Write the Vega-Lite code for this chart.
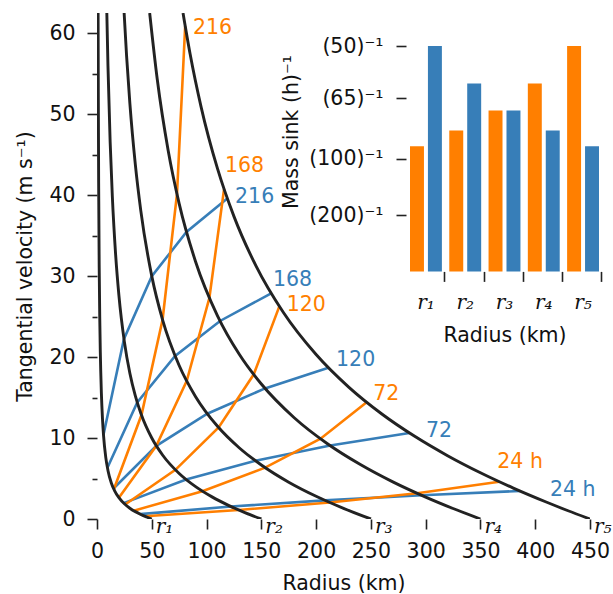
{
  "$schema": "https://vega.github.io/schema/vega-lite/v6.json",
  "width": 493,
  "height": 506,
  "autosize": {"type": "none"},
  "padding": {"left": 97, "top": 13, "right": 23, "bottom": 75},
  "background": "white",
  "config": {
    "view": {"stroke": null},
    "font": "DejaVu Sans",
    "axis": {
      "domain": false,
      "grid": false,
      "tickColor": "#222222",
      "tickWidth": 1.6,
      "labelColor": "#111111",
      "titleColor": "#111111",
      "labelFontSize": 20.5,
      "titleFontSize": 20.5,
      "titleFontWeight": "normal",
      "labelFont": "DejaVu Sans",
      "titleFont": "DejaVu Sans",
      "labelFlush": false,
      "labelOverlap": false
    }
  },
  "datasets": {
    "curves": [
      {"R": 50, "r": 1.0, "v": 62.5}, {"R": 50, "r": 1.2, "v": 52.05}, {"R": 50, "r": 1.5, "v": 41.63}, {"R": 50, "r": 2, "v": 31.2}, {"R": 50, "r": 2.5, "v": 24.94}, {"R": 50, "r": 3, "v": 20.76}, {"R": 50, "r": 4, "v": 15.53}, {"R": 50, "r": 5, "v": 12.38}, {"R": 50, "r": 6, "v": 10.27}, {"R": 50, "r": 8, "v": 7.61}, {"R": 50, "r": 10, "v": 6.0}, {"R": 50, "r": 13, "v": 4.48}, {"R": 50, "r": 16, "v": 3.51}, {"R": 50, "r": 20, "v": 2.63}, {"R": 50, "r": 25, "v": 1.875}, {"R": 50, "r": 30, "v": 1.333}, {"R": 50, "r": 35, "v": 0.911}, {"R": 50, "r": 40, "v": 0.5625}, {"R": 50, "r": 45, "v": 0.264}, {"R": 50, "r": 50, "v": 0},
      {"R": 150, "r": 8.97, "v": 62.5}, {"R": 150, "r": 10, "v": 56.0}, {"R": 150, "r": 12, "v": 46.58}, {"R": 150, "r": 14, "v": 39.83}, {"R": 150, "r": 17, "v": 32.66}, {"R": 150, "r": 20, "v": 27.63}, {"R": 150, "r": 25, "v": 21.88}, {"R": 150, "r": 30, "v": 18.0}, {"R": 150, "r": 35, "v": 15.2}, {"R": 150, "r": 40, "v": 13.06}, {"R": 150, "r": 50, "v": 10.0}, {"R": 150, "r": 60, "v": 7.875}, {"R": 150, "r": 75, "v": 5.625}, {"R": 150, "r": 90, "v": 4.0}, {"R": 150, "r": 105, "v": 2.732}, {"R": 150, "r": 120, "v": 1.6875}, {"R": 150, "r": 135, "v": 0.792}, {"R": 150, "r": 150, "v": 0},
      {"R": 250, "r": 24.76, "v": 62.5}, {"R": 250, "r": 27, "v": 57.2}, {"R": 250, "r": 30, "v": 51.33}, {"R": 250, "r": 35, "v": 43.77}, {"R": 250, "r": 40, "v": 38.06}, {"R": 250, "r": 50, "v": 30.0}, {"R": 250, "r": 60, "v": 24.54}, {"R": 250, "r": 75, "v": 18.96}, {"R": 250, "r": 90, "v": 15.11}, {"R": 250, "r": 110, "v": 11.45}, {"R": 250, "r": 130, "v": 8.77}, {"R": 250, "r": 150, "v": 6.67}, {"R": 250, "r": 175, "v": 4.55}, {"R": 250, "r": 200, "v": 2.81}, {"R": 250, "r": 225, "v": 1.32}, {"R": 250, "r": 250, "v": 0},
      {"R": 350, "r": 48.08, "v": 62.5}, {"R": 350, "r": 55, "v": 54.31}, {"R": 350, "r": 65, "v": 45.49}, {"R": 350, "r": 75, "v": 38.96}, {"R": 350, "r": 90, "v": 31.78}, {"R": 350, "r": 110, "v": 25.09}, {"R": 350, "r": 130, "v": 20.31}, {"R": 350, "r": 150, "v": 16.67}, {"R": 350, "r": 180, "v": 12.51}, {"R": 350, "r": 210, "v": 9.33}, {"R": 350, "r": 240, "v": 6.76}, {"R": 350, "r": 270, "v": 4.59}, {"R": 350, "r": 300, "v": 2.71}, {"R": 350, "r": 325, "v": 1.30}, {"R": 350, "r": 350, "v": 0},
      {"R": 450, "r": 78.53, "v": 62.5}, {"R": 450, "r": 85, "v": 57.43}, {"R": 450, "r": 95, "v": 50.91}, {"R": 450, "r": 110, "v": 43.27}, {"R": 450, "r": 125, "v": 37.38}, {"R": 450, "r": 145, "v": 31.29}, {"R": 450, "r": 170, "v": 25.53}, {"R": 450, "r": 200, "v": 20.31}, {"R": 450, "r": 230, "v": 16.26}, {"R": 450, "r": 260, "v": 12.97}, {"R": 450, "r": 290, "v": 10.21}, {"R": 450, "r": 320, "v": 7.82}, {"R": 450, "r": 350, "v": 5.71}, {"R": 450, "r": 380, "v": 3.82}, {"R": 450, "r": 410, "v": 2.10}, {"R": 450, "r": 430, "v": 1.02}, {"R": 450, "r": 450, "v": 0}
    ],
    "paths": [
      {"series": "blue", "t": 24, "ring": 1, "r": 39.33, "v": 0.606}, {"series": "blue", "t": 24, "ring": 2, "r": 122.28, "v": 1.543}, {"series": "blue", "t": 24, "ring": 3, "r": 208.19, "v": 2.30}, {"series": "blue", "t": 24, "ring": 4, "r": 296.30, "v": 2.93}, {"series": "blue", "t": 24, "ring": 5, "r": 386.09, "v": 3.46},
      {"series": "blue", "t": 72, "ring": 1, "r": 24.34, "v": 1.96}, {"series": "blue", "t": 72, "ring": 2, "r": 81.34, "v": 4.88}, {"series": "blue", "t": 72, "ring": 3, "r": 144.63, "v": 7.19}, {"series": "blue", "t": 72, "ring": 4, "r": 212.86, "v": 9.07}, {"series": "blue", "t": 72, "ring": 5, "r": 285.06, "v": 10.63},
      {"series": "blue", "t": 120, "ring": 1, "r": 15.06, "v": 3.77}, {"series": "blue", "t": 120, "ring": 2, "r": 54.16, "v": 9.03}, {"series": "blue", "t": 120, "ring": 3, "r": 100.68, "v": 13.00}, {"series": "blue", "t": 120, "ring": 4, "r": 153.38, "v": 16.13}, {"series": "blue", "t": 120, "ring": 5, "r": 211.22, "v": 18.69},
      {"series": "blue", "t": 168, "ring": 1, "r": 9.51, "v": 6.33}, {"series": "blue", "t": 168, "ring": 2, "r": 36.72, "v": 14.40}, {"series": "blue", "t": 168, "ring": 3, "r": 71.30, "v": 20.13}, {"series": "blue", "t": 168, "ring": 4, "r": 112.33, "v": 24.46}, {"series": "blue", "t": 168, "ring": 5, "r": 158.97, "v": 27.87},
      {"series": "blue", "t": 216, "ring": 1, "r": 5.92, "v": 10.41}, {"series": "blue", "t": 216, "ring": 2, "r": 24.61, "v": 22.24}, {"series": "blue", "t": 216, "ring": 3, "r": 50.03, "v": 29.98}, {"series": "blue", "t": 216, "ring": 4, "r": 81.67, "v": 35.46}, {"series": "blue", "t": 216, "ring": 5, "r": 118.91, "v": 39.60},
      {"series": "orange", "t": 24, "ring": 1, "r": 43.76, "v": 0.334}, {"series": "orange", "t": 24, "ring": 2, "r": 129.35, "v": 1.115}, {"series": "orange", "t": 24, "ring": 3, "r": 212.42, "v": 2.045}, {"series": "orange", "t": 24, "ring": 4, "r": 292.13, "v": 3.18}, {"series": "orange", "t": 24, "ring": 5, "r": 367.21, "v": 4.61},
      {"series": "orange", "t": 72, "ring": 1, "r": 33.52, "v": 1.03}, {"series": "orange", "t": 72, "ring": 2, "r": 96.20, "v": 3.44}, {"series": "orange", "t": 72, "ring": 3, "r": 153.48, "v": 6.34}, {"series": "orange", "t": 72, "ring": 4, "r": 204.03, "v": 9.91}, {"series": "orange", "t": 72, "ring": 5, "r": 246.13, "v": 14.42},
      {"series": "orange", "t": 120, "ring": 1, "r": 25.67, "v": 1.79}, {"series": "orange", "t": 120, "ring": 2, "r": 71.57, "v": 6.07}, {"series": "orange", "t": 120, "ring": 3, "r": 111.02, "v": 11.30}, {"series": "orange", "t": 120, "ring": 4, "r": 142.99, "v": 17.84}, {"series": "orange", "t": 120, "ring": 5, "r": 166.44, "v": 26.26},
      {"series": "orange", "t": 168, "ring": 1, "r": 19.96, "v": 2.63}, {"series": "orange", "t": 168, "ring": 2, "r": 54.14, "v": 9.04}, {"series": "orange", "t": 168, "ring": 3, "r": 81.87, "v": 17.04}, {"series": "orange", "t": 168, "ring": 4, "r": 102.56, "v": 27.30}, {"series": "orange", "t": 168, "ring": 5, "r": 115.98, "v": 40.75},
      {"series": "orange", "t": 216, "ring": 1, "r": 15.38, "v": 3.68}, {"series": "orange", "t": 216, "ring": 2, "r": 40.59, "v": 12.84}, {"series": "orange", "t": 216, "ring": 3, "r": 59.84, "v": 24.62}, {"series": "orange", "t": 216, "ring": 4, "r": 73.01, "v": 40.12}, {"series": "orange", "t": 216, "ring": 5, "r": 80.50, "v": 60.88}
    ],
    "tlabels": [
      {"series": "orange", "label": "216", "r": 87.6, "v": 60.65},
      {"series": "orange", "label": "168", "r": 116.8, "v": 43.6},
      {"series": "blue", "label": "216", "r": 126.0, "v": 39.77},
      {"series": "blue", "label": "168", "r": 160.6, "v": 29.52},
      {"series": "orange", "label": "120", "r": 173.2, "v": 26.43},
      {"series": "blue", "label": "120", "r": 218.2, "v": 19.64},
      {"series": "orange", "label": "72", "r": 252.2, "v": 15.40},
      {"series": "blue", "label": "72", "r": 300.3, "v": 10.87},
      {"series": "orange", "label": "24 h", "r": 365.4, "v": 7.00},
      {"series": "blue", "label": "24 h", "r": 413.5, "v": 3.58}
    ],
    "rlabels": [
      {"lab": "r₁", "r": 50, "v": 0}, {"lab": "r₂", "r": 150, "v": 0}, {"lab": "r₃", "r": 250, "v": 0}, {"lab": "r₄", "r": 350, "v": 0}, {"lab": "r₅", "r": 450, "v": 0}
    ],
    "sinks": [
      {"region": "r₁", "series": "orange", "sink": 0.0111111}, {"region": "r₁", "series": "blue", "sink": 0.02},
      {"region": "r₂", "series": "orange", "sink": 0.0125}, {"region": "r₂", "series": "blue", "sink": 0.0166667},
      {"region": "r₃", "series": "orange", "sink": 0.0142857}, {"region": "r₃", "series": "blue", "sink": 0.0142857},
      {"region": "r₄", "series": "orange", "sink": 0.0166667}, {"region": "r₄", "series": "blue", "sink": 0.0125},
      {"region": "r₅", "series": "orange", "sink": 0.02}, {"region": "r₅", "series": "blue", "sink": 0.0111111}
    ]
  },
  "layer": [
    {
      "layer": [
        {
          "data": {"name": "paths"},
          "mark": {"type": "line", "strokeWidth": 2.6, "clip": true},
          "encoding": {
            "x": {
              "field": "r", "type": "quantitative",
              "scale": {"domain": [0, 450], "nice": false, "zero": false},
              "axis": {
                "orient": "bottom",
                "title": "Radius (km)",
                "values": [0, 25, 50, 75, 100, 125, 150, 175, 200, 225, 250, 275, 300, 325, 350, 375, 400, 425, 450],
                "labelExpr": "datum.value % 50 === 0 ? datum.label : ''",
                "tickSize": {"condition": {"test": "datum.value % 50 === 0", "value": 10}, "value": 5},
                "labelPadding": 12.5,
                "titlePadding": 11
              }
            },
            "y": {
              "field": "v", "type": "quantitative",
              "scale": {"domain": [0, 62.5], "nice": false, "zero": false},
              "axis": {
                "orient": "left",
                "title": "Tangential velocity (m s⁻¹)",
                "values": [0, 5, 10, 15, 20, 25, 30, 35, 40, 45, 50, 55, 60],
                "labelExpr": "datum.value % 10 === 0 ? datum.label : ''",
                "tickSize": {"condition": {"test": "datum.value % 10 === 0", "value": 10}, "value": 5},
                "labelPadding": 12,
                "titlePadding": 13
              }
            },
            "color": {"field": "series", "type": "nominal", "scale": {"domain": ["orange", "blue"], "range": ["#ff7f00", "#377eb8"]}, "legend": null},
            "detail": {"field": "t", "type": "nominal"},
            "order": {"field": "ring", "type": "quantitative"}
          }
        },
        {
          "data": {"name": "curves"},
          "mark": {"type": "line", "color": "#222222", "strokeWidth": 2.9, "interpolate": "monotone", "clip": true},
          "encoding": {
            "x": {"field": "r", "type": "quantitative", "scale": {"domain": [0, 450], "nice": false, "zero": false}},
            "y": {"field": "v", "type": "quantitative", "scale": {"domain": [0, 62.5], "nice": false, "zero": false}},
            "detail": {"field": "R", "type": "nominal"},
            "order": {"field": "r", "type": "quantitative"}
          }
        },
        {
          "data": {"name": "tlabels"},
          "mark": {"type": "text", "align": "left", "baseline": "middle", "fontSize": 20.5, "font": "DejaVu Sans"},
          "encoding": {
            "x": {"field": "r", "type": "quantitative", "scale": {"domain": [0, 450], "nice": false, "zero": false}},
            "y": {"field": "v", "type": "quantitative", "scale": {"domain": [0, 62.5], "nice": false, "zero": false}},
            "text": {"field": "label", "type": "nominal"},
            "color": {"field": "series", "type": "nominal", "scale": {"domain": ["orange", "blue"], "range": ["#ff7f00", "#377eb8"]}, "legend": null}
          }
        },
        {
          "data": {"name": "rlabels"},
          "mark": {"type": "text", "align": "left", "baseline": "alphabetic", "dx": 4, "dy": 14, "font": "DejaVu Serif", "fontStyle": "italic", "fontSize": 20, "color": "#111111"},
          "encoding": {
            "x": {"field": "r", "type": "quantitative", "scale": {"domain": [0, 450], "nice": false, "zero": false}},
            "y": {"field": "v", "type": "quantitative", "scale": {"domain": [0, 62.5], "nice": false, "zero": false}},
            "text": {"field": "lab", "type": "nominal"}
          }
        }
      ]
    },
    {
      "data": {"name": "sinks"},
      "mark": {"type": "bar"},
      "encoding": {
        "x": {
          "field": "region", "type": "nominal",
          "sort": ["r₁", "r₂", "r₃", "r₄", "r₅"],
          "scale": {"type": "band", "range": [313, 502], "paddingInner": 0.188, "paddingOuter": 0},
          "axis": {
            "orient": "bottom",
            "offset": -247.6,
            "title": "Radius (km)",
            "bandPosition": 1.094,
            "tickSize": 10,
            "labelAngle": 0,
            "labelFont": "DejaVu Serif",
            "labelFontStyle": "italic",
            "labelFontSize": 20,
            "labelPadding": 11,
            "titlePadding": 13
          }
        },
        "xOffset": {"field": "series", "type": "nominal", "sort": ["orange", "blue"], "scale": {"paddingInner": 0.222, "paddingOuter": 0}},
        "y": {
          "field": "sink", "type": "quantitative",
          "scale": {"domain": [0, 0.02], "range": [258.4, 33], "nice": false},
          "axis": {
            "orient": "left",
            "offset": -309,
            "title": "Mass sink (h)⁻¹",
            "values": [0.02, 0.015384615, 0.01, 0.005],
            "labelExpr": "'(' + round(1 / datum.value) + ')⁻¹'",
            "tickSize": 10,
            "labelPadding": 13,
            "titlePadding": 7,
            "titleY": 118.5
          }
        },
        "color": {"field": "series", "type": "nominal", "scale": {"domain": ["orange", "blue"], "range": ["#ff7f00", "#377eb8"]}, "legend": null}
      }
    }
  ],
  "resolve": {
    "scale": {"x": "independent", "y": "independent"},
    "axis": {"x": "independent", "y": "independent"}
  }
}
